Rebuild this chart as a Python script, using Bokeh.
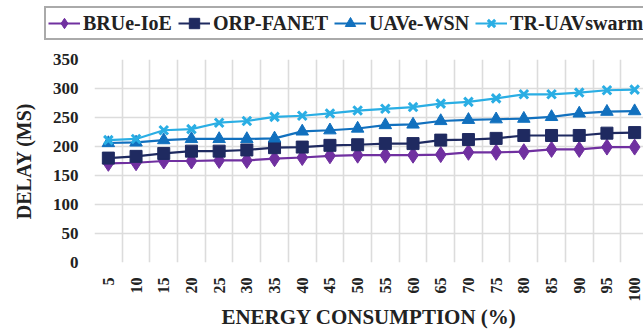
from math import pi
from bokeh.plotting import figure
from bokeh.models import Range1d, FixedTicker, Legend, LegendItem
from bokeh.embed import file_html
from bokeh.resources import INLINE

energy = [5, 10, 15, 20, 25, 30, 35, 40, 45, 50, 55, 60, 65, 70, 75, 80, 85, 90, 95, 100]
brue_ioe = [171, 172, 175, 175, 176, 176, 179, 181, 184, 185, 185, 185, 186, 190, 190, 191, 195, 195, 199, 199]
orp_fanet = [180, 183, 188, 192, 192, 194, 198, 199, 202, 203, 205, 205, 211, 212, 214, 219, 219, 219, 223, 224]
uave_wsn = [206, 207, 211, 213, 213, 213, 214, 226, 228, 231, 237, 238, 244, 246, 247, 248, 251, 257, 260, 261]
tr_uavswarm = [211, 213, 228, 230, 241, 244, 251, 253, 257, 262, 265, 268, 274, 277, 283, 290, 290, 293, 297, 298]
y_ticks = [0, 50, 100, 150, 200, 250, 300, 350]

# name, values, colour, marker, size
series = [
    ("BRUe-IoE", brue_ioe, "#7030A0", "diamond", 16),
    ("ORP-FANET", orp_fanet, "#1F2A60", "square", 12),
    ("UAVe-WSN", uave_wsn, "#1170BE", "triangle", 12.5),
    ("TR-UAVswarm", tr_uavswarm, "#2AAEE4", "x", 12),
]

FONT = "Liberation Serif"

# ---- main chart ----
p = figure(width=643, height=281, output_backend="svg", toolbar_location=None,
           x_range=Range1d(2.5, 101.6), y_range=Range1d(0, 350),
           min_border_left=94, min_border_top=9, min_border_right=0, min_border_bottom=69)
p.outline_line_color = None
p.background_fill_color = "white"

step = energy[1] - energy[0]
p.xgrid.ticker = FixedTicker(ticks=[e - step / 2 for e in energy])
p.ygrid.ticker = FixedTicker(ticks=y_ticks)
for g in (p.xgrid[0], p.ygrid[0]):
    g.grid_line_color = "#dcdcdc"
    g.grid_line_width = 1.6

p.xaxis.ticker = FixedTicker(ticks=energy)
p.yaxis.ticker = FixedTicker(ticks=y_ticks)
for ax in (p.xaxis[0], p.yaxis[0]):
    ax.axis_line_color = None
    ax.major_tick_line_color = None
    ax.minor_tick_line_color = None
    ax.major_tick_out = 0
    ax.major_tick_in = 0
    ax.major_label_text_font = FONT
    ax.major_label_text_font_style = "bold"
    ax.major_label_text_color = "#222222"
    ax.axis_label_text_font = FONT
    ax.axis_label_text_font_style = "bold"
    ax.axis_label_text_color = "#222222"

p.xaxis.major_label_orientation = pi / 2
p.xaxis.major_label_text_font_size = "16px"
p.xaxis.major_label_standoff = 15
p.xaxis.axis_label = "ENERGY CONSUMPTION (%)"
p.xaxis.axis_label_text_font_size = "21px"
p.xaxis.axis_label_standoff = 0

p.yaxis.major_label_text_font_size = "17px"
p.yaxis.major_label_standoff = 16
p.yaxis.axis_label = "DELAY (MS)"
p.yaxis.axis_label_text_font_size = "20px"
p.yaxis.axis_label_standoff = 15

# ---- legend strip (separate root, its series lie outside its visible range) ----
lg = figure(width=643, height=50, output_backend="svg", toolbar_location=None,
            x_axis_type=None, y_axis_type=None,
            x_range=Range1d(0, 1), y_range=Range1d(0, 1),
            min_border_left=0, min_border_right=0, min_border_top=0, min_border_bottom=0)
lg.outline_line_color = None
lg.xgrid.visible = False
lg.ygrid.visible = False

items = []
for name, vals, color, marker, size in series:
    p.line(energy, vals, line_color=color, line_width=2.2)
    l = lg.line(energy, vals, line_color=color, line_width=2.2)
    if marker == "x":
        p.scatter(energy, vals, marker=marker, size=size, line_color=color, line_width=3)
        s = lg.scatter(energy, vals, marker=marker, size=size, line_color=color, line_width=3)
    else:
        p.scatter(energy, vals, marker=marker, size=size, fill_color=color, line_color=color)
        s = lg.scatter(energy, vals, marker=marker, size=size, fill_color=color, line_color=color)
    items.append(LegendItem(label=name, renderers=[l, s]))

legend = Legend(items=items, orientation="horizontal", location=(44, 10),
                label_text_font=FONT, label_text_font_style="bold", label_text_font_size="20px",
                label_text_color="#222222", glyph_width=32, glyph_height=26, label_standoff=3,
                spacing=6, padding=2, margin=0, border_line_color="#555555", border_line_width=2,
                background_fill_color="white", background_fill_alpha=1.0)
lg.add_layout(legend, "center")

open("out.html", "w").write(file_html([lg, p], INLINE))
